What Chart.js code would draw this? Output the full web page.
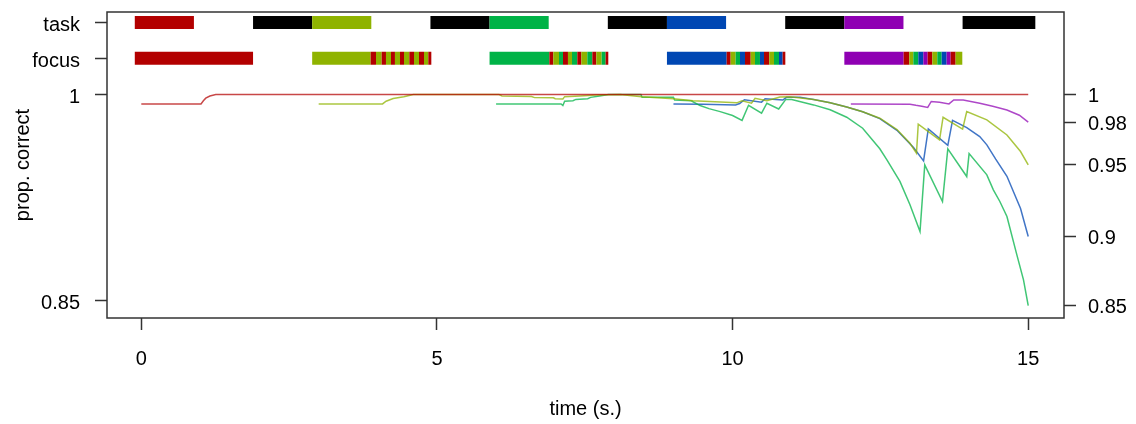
<!DOCTYPE html>
<html>
<head>
<meta charset="utf-8">
<script src="https://cdn.jsdelivr.net/npm/chart.js@4.4.0/dist/chart.umd.min.js"></script>
<style>
  html, body { margin: 0; padding: 0; background: #fff; }
  #wrap { width: 1136px; height: 424px; }
</style>
</head>
<body>
<div id="wrap"><canvas id="myChart" width="1136" height="424"></canvas></div>
<script>
// task colours (red, yellow-green, green, blue, purple), -1 = black, null = gap
const taskColors = ["#B30000", "#8FB300", "#00B347", "#0047B3", "#8F00B3"];
const lineColors = ["rgba(179,0,0,0.72)", "rgba(143,179,0,0.75)", "rgba(0,179,71,0.75)", "rgba(0,71,179,0.75)", "rgba(143,0,179,0.72)"];

const xTicks = [0, 5, 10, 15];
const taskLevel = 1.0525;
const focusLevel = 1.0265;
const leftTickVals = [taskLevel, focusLevel, 1, 0.85];
const leftTickLabels = ["task", "focus", "1", "0.85"];

// task row
const taskEdges = [-0.11, 0.89, 1.89, 2.89, 3.89, 4.89, 5.89, 6.89, 7.89, 8.89, 9.89, 10.89, 11.89, 12.89, 13.89, 15.12];
const taskIdx = [0, null, -1, 1, null, -1, 2, null, -1, 3, null, -1, 4, null, -1];

// focus row
const focusEdges = [
  -0.11, 1.89, 2.89,
  3.879, 3.969, 4.065, 4.138, 4.223, 4.290, 4.375, 4.443, 4.533, 4.612, 4.697, 4.781, 4.854, 4.905,
  5.89,
  6.901, 6.968, 7.064, 7.132, 7.216, 7.284, 7.374, 7.442, 7.543, 7.628, 7.695, 7.786, 7.853, 7.898,
  8.89,
  9.900, 9.967, 10.052, 10.125, 10.210, 10.306, 10.379, 10.463, 10.531, 10.621, 10.700, 10.785, 10.847, 10.892,
  11.89,
  12.893, 12.989, 13.057, 13.141, 13.226, 13.299, 13.378, 13.462, 13.536, 13.620, 13.688, 13.772, 13.885
];
const focusIdx = [
  0, null, 1,
  0, 1, 0, 1, 0, 1, 0, 1, 0, 1, 0, 1, 0, null,
  2,
  0, 1, 2, 0, 1, 2, 0, 1, 2, 0, 1, 2, 0, null,
  3,
  0, 1, 2, 3, 0, 1, 2, 3, 0, 1, 2, 3, 0, null,
  4,
  0, 1, 2, 3, 4, 0, 1, 2, 3, 4, 0, 1
];

// proportion correct per task
const redT = [0, 1.01, 1.05, 1.09, 1.16, 1.26, 15];
const redV = [0.9932, 0.9932, 0.9955, 0.9974, 0.999, 1, 1];

const ygT = [3.0, 4.08, 4.14, 4.26, 4.44, 4.6, 6.05, 6.1, 6.6, 6.65, 6.97, 7.0, 7.13, 7.16, 7.42, 7.7, 8.1, 8.46, 9.0, 9.33, 10.07, 10.16, 10.32, 10.38, 10.58, 10.8, 10.97, 11.37, 11.65, 11.93, 12.2, 12.49, 12.78, 13.0, 13.11, 13.14, 13.5, 13.56, 13.89, 13.96, 14.3, 14.64, 14.87, 15.0];
const ygV = [0.9932, 0.9932, 0.9952, 0.9971, 0.9985, 1.0, 1.0, 0.999, 0.9986, 0.9978, 0.9977, 0.997, 0.9968, 0.9985, 0.999, 0.9998, 1.0, 0.9985, 0.997, 0.9955, 0.994, 0.9955, 0.9938, 0.9973, 0.9955, 0.9983, 0.9985, 0.9965, 0.994, 0.991, 0.9875, 0.9828, 0.9745, 0.9645, 0.9573, 0.9784, 0.967, 0.9835, 0.9748, 0.9876, 0.9816, 0.9706, 0.9585, 0.9488];

const greenT = [6.0, 7.1, 7.13, 7.16, 7.3, 7.35, 7.55, 7.6, 7.75, 7.9, 8.45, 8.47, 9.0, 9.02, 9.3, 9.45, 9.6, 9.79, 10.0, 10.16, 10.27, 10.49, 10.58, 10.78, 10.9, 11.0, 11.37, 11.65, 11.93, 12.2, 12.49, 12.61, 12.83, 13.0, 13.17, 13.25, 13.55, 13.64, 13.96, 14.0, 14.3, 14.41, 14.52, 14.64, 14.8, 14.92, 15.0];
const greenV = [0.9932, 0.9932, 0.992, 0.9952, 0.9955, 0.9965, 0.997, 0.998, 0.999, 1.0, 1.0, 0.998, 0.998, 0.996, 0.9955, 0.992, 0.9898, 0.9876, 0.9848, 0.9812, 0.9922, 0.9865, 0.9937, 0.9895, 0.9965, 0.9965, 0.9925, 0.989, 0.9835, 0.9755, 0.9605, 0.9524, 0.9367, 0.9197, 0.9003, 0.9488, 0.922, 0.9605, 0.9403, 0.957, 0.9415, 0.9306, 0.9221, 0.9112, 0.8845, 0.865, 0.8463];

const blueT = [9.0, 9.5, 10.05, 10.12, 10.2, 10.49, 10.55, 10.85, 10.91, 11.14, 11.37, 11.65, 11.93, 12.2, 12.49, 12.78, 13.06, 13.23, 13.31, 13.64, 13.72, 13.96, 14.18, 14.3, 14.45, 14.64, 14.87, 15.0];
const blueV = [0.9932, 0.993, 0.9925, 0.9935, 0.9963, 0.9945, 0.997, 0.996, 0.998, 0.998, 0.9965, 0.994, 0.991, 0.9875, 0.9825, 0.974, 0.9615, 0.9517, 0.975, 0.963, 0.9813, 0.976, 0.9694, 0.9634, 0.953, 0.9405, 0.917, 0.8966];

const purpleT = [12.0, 13.0, 13.1, 13.2, 13.3, 13.36, 13.5, 13.66, 13.74, 13.9, 14.18, 14.4, 14.64, 14.85, 15.0];
const purpleV = [0.9932, 0.993, 0.9922, 0.9915, 0.9906, 0.995, 0.9945, 0.9932, 0.9961, 0.996, 0.9937, 0.9915, 0.9888, 0.985, 0.9799];

const seriesT = [redT, ygT, greenT, blueT, purpleT];
const seriesV = [redV, ygV, greenV, blueV, purpleV];

// right axis marks the last value of every task
const rightTickVals = seriesV.map((v) => v[v.length - 1]);

function colorFor(i) {
  if (i === null || i === undefined) return "rgba(0,0,0,0)";
  if (i === -1) return "#000000";
  return taskColors[i];
}

function barDataset(edges, idx, level) {
  return {
    data: edges.map((t) => ({ x: t, y: level })),
    borderColor: "rgba(0,0,0,0)",
    borderWidth: 13,
    borderCapStyle: "butt",
    pointRadius: 0,
    tension: 0,
    segment: {
      borderColor: (c) => colorFor(idx[c.p0DataIndex]),
    },
  };
}

const datasets = [];
for (let k = 0; k < seriesT.length; k++) {
  datasets.push({
    data: seriesT[k].map((t, i) => ({ x: t, y: seriesV[k][i] })),
    borderColor: lineColors[k],
    borderWidth: 1.5,
    pointRadius: 0,
    tension: 0,
  });
}
datasets.push(barDataset(taskEdges, taskIdx, taskLevel));
datasets.push(barDataset(focusEdges, focusIdx, focusLevel));

const boxPlugin = {
  id: "box",
  afterDraw(chart) {
    const a = chart.chartArea;
    const c = chart.ctx;
    c.save();
    c.strokeStyle = "#333";
    c.lineWidth = 1.5;
    c.strokeRect(a.left, a.top, a.right - a.left, a.bottom - a.top);
    c.restore();
  },
};

// no extra room for tick labels, the layout padding decides
function noPad(s) {
  s.paddingTop = 0;
  s.paddingBottom = 0;
  s.paddingLeft = 0;
  s.paddingRight = 0;
}

Chart.defaults.font.family = "'Liberation Sans', Arial, sans-serif";
Chart.defaults.font.size = 20;
Chart.defaults.color = "#000";

const yMin = 0.8372;
const yMax = 1.0602;

new Chart(document.getElementById("myChart").getContext("2d"), {
  type: "line",
  data: { datasets: datasets },
  options: {
    responsive: false,
    animation: false,
    layout: { padding: { top: 12, left: 0, right: 0, bottom: 0 } },
    plugins: { legend: { display: false }, tooltip: { enabled: false } },
    scales: {
      x: {
        type: "linear",
        min: -0.58,
        max: 15.605,
        afterBuildTicks: (s) => { s.ticks = xTicks.map((v) => ({ value: v })); },
        afterFit: (s) => { s.height = 106; noPad(s); },
        grid: { drawOnChartArea: false, tickLength: 12, tickColor: "#333", tickWidth: 1.5 },
        border: { display: false },
        ticks: { padding: 17, autoSkip: false, maxRotation: 0, callback: (v) => v },
        title: { display: true, text: "time (s.)", padding: { top: 0, bottom: 3 } },
      },
      y: {
        type: "linear",
        position: "left",
        min: yMin,
        max: yMax,
        afterBuildTicks: (s) => { s.ticks = leftTickVals.map((v) => ({ value: v })); },
        afterFit: (s) => { s.width = 107; noPad(s); },
        grid: { drawOnChartArea: false, tickLength: 12, tickColor: "#333", tickWidth: 1.5 },
        border: { display: false },
        ticks: { padding: 15, labelOffset: 3, autoSkip: false, callback: (v, i) => leftTickLabels[i] },
        title: { display: true, text: "prop. correct", padding: { top: 11, bottom: 0 } },
      },
      y2: {
        type: "linear",
        position: "right",
        min: yMin,
        max: yMax,
        afterBuildTicks: (s) => { s.ticks = rightTickVals.map((v) => ({ value: v })); },
        afterFit: (s) => { s.width = 72; noPad(s); },
        grid: { drawOnChartArea: false, tickLength: 12, tickColor: "#333", tickWidth: 1.5 },
        border: { display: false },
        ticks: { padding: 12, labelOffset: 2, autoSkip: false, callback: (v) => String(Number(v.toFixed(2))) },
      },
    },
  },
  plugins: [boxPlugin],
});
</script>
</body>
</html>
